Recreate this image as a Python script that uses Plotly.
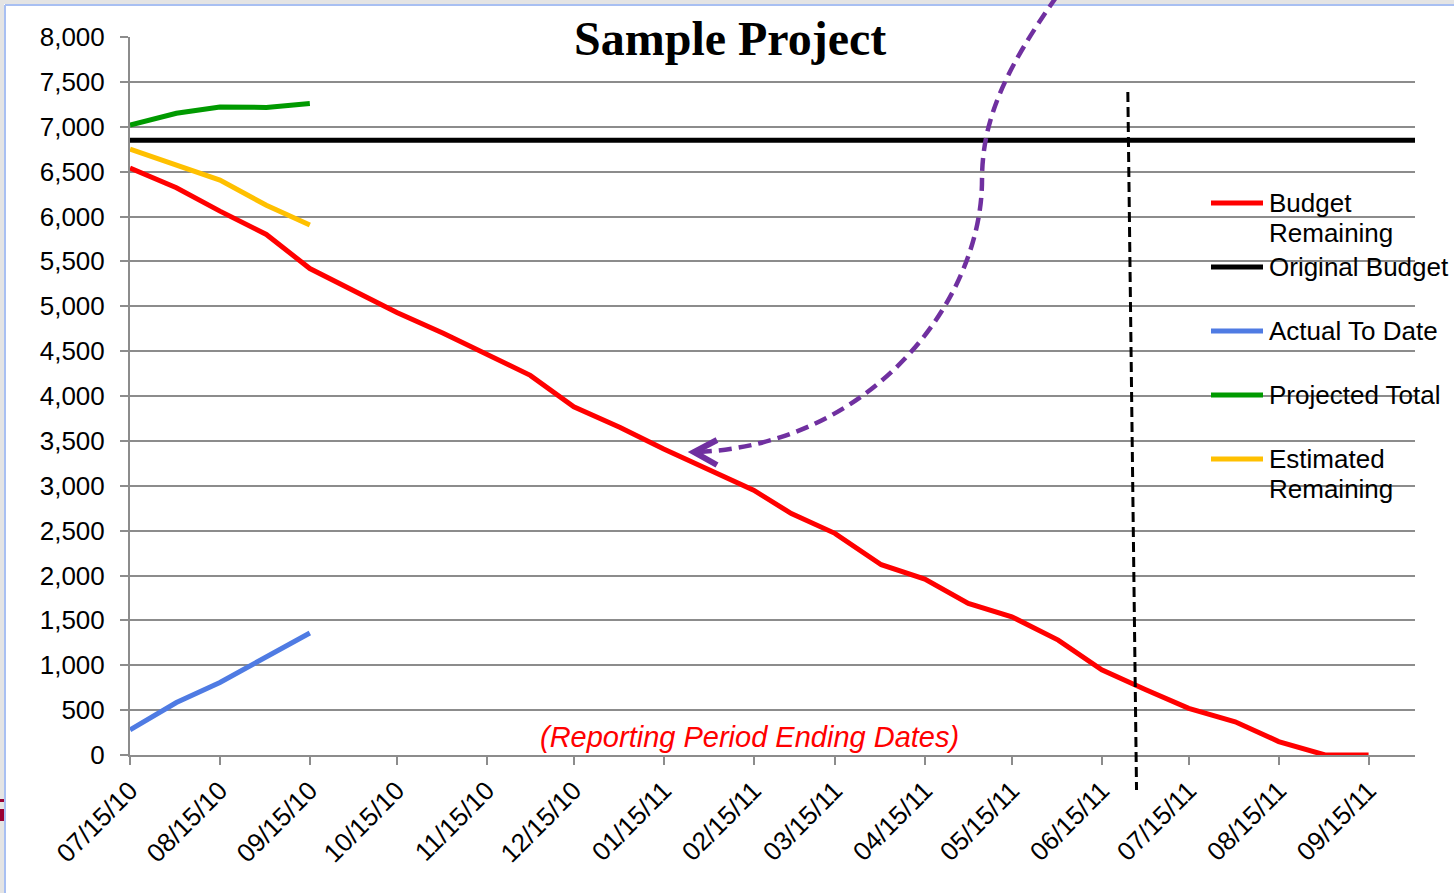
import plotly.graph_objects as go

# ---------------- data ----------------
report_dates = ['2010-07-15', '2010-07-31', '2010-08-15', '2010-08-31', '2010-09-15',
                '2010-09-30', '2010-10-15', '2010-10-31', '2010-11-15', '2010-11-30',
                '2010-12-15', '2010-12-31', '2011-01-15', '2011-01-31', '2011-02-15',
                '2011-02-28', '2011-03-15', '2011-03-31', '2011-04-15', '2011-04-30',
                '2011-05-15', '2011-05-31', '2011-06-15', '2011-06-30', '2011-07-15',
                '2011-07-31', '2011-08-15', '2011-08-31', '2011-09-15']
budget_remaining = [6540, 6320, 6060, 5800, 5420, 5170, 4930, 4700, 4470, 4230,
                    3880, 3650, 3410, 3180, 2950, 2690, 2470, 2120, 1960, 1690,
                    1540, 1280, 950, 730, 520, 370, 150, 0, 0]

original_dates = ['2010-07-15', '2011-10-01']
original_budget = [6850, 6850]

early_dates = ['2010-07-15', '2010-07-31', '2010-08-15', '2010-08-31', '2010-09-15']
actual_to_date = [280, 585, 808, 1100, 1360]
projected_total = [7020, 7150, 7220, 7215, 7260]
estimated_remaining = [6750, 6575, 6405, 6125, 5905]

series_names = ['Budget Remaining', 'Original Budget', 'Actual To Date',
                'Projected Total', 'Estimated Remaining']
legend_lines = [['Budget', 'Remaining'], ['Original Budget'], ['Actual To Date'],
                ['Projected Total'], ['Estimated', 'Remaining']]
series_colors = ['#ff0000', '#000000', '#4f7be3', '#009a00', '#ffc000']

tick_dates = ['2010-07-15', '2010-08-15', '2010-09-15', '2010-10-15', '2010-11-15',
              '2010-12-15', '2011-01-15', '2011-02-15', '2011-03-15', '2011-04-15',
              '2011-05-15', '2011-06-15', '2011-07-15', '2011-08-15', '2011-09-15']
tick_labels = ['07/15/10', '08/15/10', '09/15/10', '10/15/10', '11/15/10',
               '12/15/10', '01/15/11', '02/15/11', '03/15/11', '04/15/11',
               '05/15/11', '06/15/11', '07/15/11', '08/15/11', '09/15/11']

x_range = ['2010-07-15', '2011-10-01']
y_range = [0, 8000]
cutoff_top_date = '2011-06-24'
cutoff_bottom_date = '2011-06-27'

# ---------------- layout helpers (pixel -> paper) ----------------
W, H = 1454, 893
L, R, T, B = 130, 39, 37, 138
PW, PH = W - L - R, H - T - B


def px(x):
    return (x - L) / PW


def py(y):
    return (H - B - y) / PH


def P(x, y):
    return f"{px(x):.5f},{py(y):.5f}"


FONT = "Liberation Sans, Arial, sans-serif"
GRID = "#8c8c8c"

fig = go.Figure()
series_x = [report_dates, original_dates, early_dates, early_dates, early_dates]
series_y = [budget_remaining, original_budget, actual_to_date, projected_total,
            estimated_remaining]
for name, xs, ys, col in zip(series_names, series_x, series_y, series_colors):
    fig.add_trace(go.Scatter(x=xs, y=ys, mode='lines', name=name, showlegend=False,
                             line=dict(color=col, width=5)))

shapes = []
annotations = []
# frame of the embedded chart
shapes.append(dict(type='rect', xref='paper', yref='paper', layer='below',
                   x0=px(0), x1=px(W), y0=py(0), y1=py(4), fillcolor='#e4e4e4', line_width=0))
shapes.append(dict(type='rect', xref='paper', yref='paper', layer='below',
                   x0=px(0), x1=px(4), y0=py(0), y1=py(H), fillcolor='#e4e4e4', line_width=0))
shapes.append(dict(type='line', xref='paper', yref='paper',
                   x0=px(5), x1=px(W), y0=py(5), y1=py(5), line=dict(color='#a8bff2', width=2)))
shapes.append(dict(type='line', xref='paper', yref='paper',
                   x0=px(5), x1=px(5), y0=py(5), y1=py(H), line=dict(color='#a8bff2', width=2)))
shapes.append(dict(type='rect', xref='paper', yref='paper',
                   x0=px(0), x1=px(4), y0=py(799), y1=py(802), fillcolor='#990033', line_width=0))
shapes.append(dict(type='rect', xref='paper', yref='paper',
                   x0=px(0), x1=px(4), y0=py(809), y1=py(821), fillcolor='#990033', line_width=0))

# legend (drawn manually to match the original spacing)
leg_y0, leg_step, leg_line_h = 203, 64, 30
for i, (lines, col) in enumerate(zip(legend_lines, series_colors)):
    yc = leg_y0 + i * leg_step
    shapes.append(dict(type='line', xref='paper', yref='paper',
                       x0=px(1211), x1=px(1263), y0=py(yc), y1=py(yc),
                       line=dict(color=col, width=5)))
    for j, txt in enumerate(lines):
        annotations.append(dict(text=txt, xref='paper', yref='paper',
                                x=px(1267), y=py(yc + j * leg_line_h),
                                xanchor='left', yanchor='middle', showarrow=False,
                                font=dict(family=FONT, size=26, color='#000000')))

# vertical dashed "today" line
shapes.append(dict(type='line', xref='x', yref='paper',
                   x0=cutoff_top_date, x1=cutoff_bottom_date, y0=py(92), y1=py(790),
                   line=dict(color='#000000', width=3, dash='10px,5px')))

# purple dashed curved arrow
curve = (f"M{P(1057, -4)} C{P(1005, 70)} {P(982, 120)} {P(982, 180)} "
         f"C{P(982, 300)} {P(872, 445)} {P(697, 452)}")
shapes.append(dict(type='path', xref='paper', yref='paper', path=curve,
                   line=dict(color='#7030a0', width=4.5, dash='13px,7px')))
head = f"M{P(717, 440)} L{P(694, 452)} L{P(717, 465)}"
shapes.append(dict(type='path', xref='paper', yref='paper', path=head,
                   line=dict(color='#7030a0', width=6)))

annotations += [
    dict(text='<b>Sample Project</b>', xref='paper', yref='paper',
         x=px(730), y=py(39), xanchor='center', yanchor='middle', showarrow=False,
         font=dict(family='Liberation Serif, Times New Roman, serif', size=48, color='#000000')),
    dict(text='<i>(Reporting Period Ending Dates)</i>', xref='paper', yref='paper',
         x=px(749), y=py(737), xanchor='center', yanchor='middle', showarrow=False,
         font=dict(family=FONT, size=29, color='#ff0000')),
]

fig.update_layout(
    width=W, height=H,
    margin=dict(l=L, r=R, t=T, b=B, autoexpand=False),
    paper_bgcolor='#ffffff', plot_bgcolor='rgba(0,0,0,0)',
    font=dict(family=FONT, size=26, color='#000000'),
    showlegend=False,
    shapes=shapes,
    annotations=annotations,
    xaxis=dict(type='date', range=x_range, tickmode='array', tickvals=tick_dates,
               ticktext=tick_labels, tickangle=-45, ticks='outside', ticklen=8,
               tickwidth=2, tickcolor=GRID, showgrid=False, showline=True,
               linecolor=GRID, linewidth=2, zeroline=False, automargin=False,
               tickfont=dict(size=26, family=FONT, color='#000000')),
    yaxis=dict(range=y_range, dtick=500, tickformat=',', ticks='outside', ticklen=8,
               tickwidth=2, tickcolor=GRID, showgrid=True, gridcolor=GRID, gridwidth=2,
               showline=True, linecolor=GRID, linewidth=2, zeroline=False,
               automargin=False, ticklabelstandoff=10,
               tickfont=dict(size=26, family=FONT, color='#000000')),
)

fig.write_html("out.html")
